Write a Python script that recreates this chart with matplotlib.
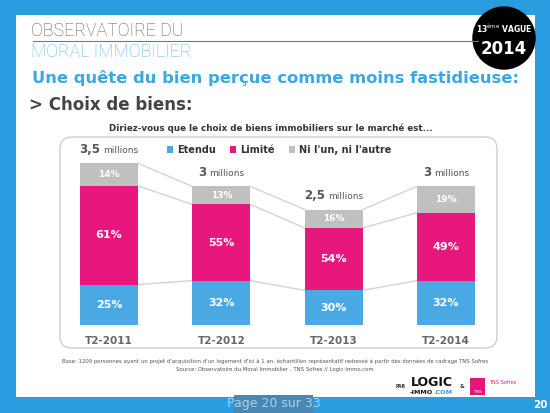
import matplotlib
matplotlib.use('Agg')
import matplotlib.pyplot as plt
from matplotlib.patches import Rectangle, FancyBboxPatch, Circle
from matplotlib.offsetbox import TextArea, HPacker, AnnotationBbox

# Données
periodes = ['T2-2011', 'T2-2012', 'T2-2013', 'T2-2014']
millions = [3.5, 3.0, 2.5, 3.0]
millions_txt = ['3,5', '3', '2,5', '3']
etendu = [25, 32, 30, 32]
limite = [61, 55, 54, 49]
ni_lun = [14, 13, 16, 19]

BLEU = '#4aa9e2'
ROSE = '#e8177d'
GRIS = '#c0c0c0'
FOND = '#2a9de0'

W, H = 550, 413
fig = plt.figure(figsize=(5.5, 4.13), dpi=100)
fig.patch.set_facecolor(FOND)

# Axe de fond en pixels
bg = fig.add_axes([0, 0, 1, 1])
bg.set_xlim(0, W)
bg.set_ylim(H, 0)
bg.axis('off')

bg.add_patch(Rectangle((16, 15), 519, 382, facecolor='white', edgecolor='none'))
bg.add_patch(FancyBboxPatch((60, 137), 437, 211, boxstyle='round,pad=0,rounding_size=12',
                            facecolor='white', edgecolor='#cfcfcf', lw=1))

# En-tête
bg.text(31, 31, 'OBSERVATOIRE DU', fontsize=12.8, color='#5e5e5e', family='Roboto',
        fontweight='light', va='center', ha='left')
bg.text(31, 52, 'MORAL IMMOBILIER', fontsize=12.8, color='#5db8e6', family='Roboto',
        fontweight='light', va='center', ha='left')
bg.plot([33, 478], [40.5, 40.5], color='#777777', lw=0.8)
bg.add_patch(Circle((504, 38), 31, color='black'))
bg.text(504, 28, '13$^{\\rm ème}$ VAGUE', fontsize=5.5, color='white', fontweight='bold',
        ha='center', va='center', family='DejaVu Sans Condensed')
bg.text(504, 49, '2014', fontsize=12, color='white', fontweight='bold',
        ha='center', va='center', family='DejaVu Sans Condensed')

bg.text(275, 78, 'Une quête du bien perçue comme moins fastidieuse:', fontsize=11.8,
        color='#3aa8e2', fontweight='bold', ha='center', va='center')
bg.text(29, 105, '> Choix de biens:', fontsize=12, color='#444444', fontweight='bold',
        ha='left', va='center')
bg.text(271, 128, 'Diriez-vous que le choix de biens immobiliers sur le marché est...',
        fontsize=6.3, color='#333333', fontweight='bold', ha='center', va='center')

# Pied de page
bg.text(275, 361, "Base: 1209 personnes ayant un projet d'acquisition d'un logement d'ici à 1 an, "
        "échantillon représentatif redressé à partir des données de cadrage TNS Sofres",
        fontsize=3.9, color='#555555', ha='center', va='center')
bg.text(275, 370, 'Source: Observatoire du Moral Immobilier , TNS Sofres // Logic-immo.com',
        fontsize=3.9, color='#555555', ha='center', va='center')

bg.text(401, 386, 'PAR', fontsize=3.3, color='#333333', ha='center', va='center', fontweight='bold')
bg.text(432, 383, 'LOGIC', fontsize=9, color='#111111', ha='center', va='center', fontweight='bold')
bg.text(433, 392.5, '-IMMO', fontsize=4.6, color='#111111', ha='right', va='center', fontweight='bold')
bg.text(433, 392.5, '.COM', fontsize=4.6, color='#2a9de0', ha='left', va='center', fontweight='bold')
bg.text(462, 386, '&', fontsize=4, color='#333333', ha='center', va='center', fontweight='bold')
bg.add_patch(Rectangle((470, 378), 15, 17, facecolor='#e5157a', edgecolor='none'))
bg.text(477.5, 392, 'TNS', fontsize=2.8, color='white', ha='center', va='center')
bg.text(489, 383, 'TNS Sofres', fontsize=3.6, color='#e5157a', ha='left', va='center')

bg.add_patch(Rectangle((234, 395), 79, 18, facecolor='#4a87b3', edgecolor='none'))
bg.text(273.5, 404, 'Page 20 sur 33', fontsize=9, color='#a8d2f0', ha='center', va='center')
bg.text(540, 405, '20', fontsize=7.5, color='white', fontweight='bold', ha='center', va='center')

# Graphique
ax = fig.add_axes([60 / W, (H - 325) / H, 437 / W, 184.8 / H])
ax.set_facecolor('none')
ax.set_xlim(-0.436, 3.454)
ax.set_ylim(0, 4)
for s in ax.spines.values():
    s.set_visible(False)
ax.set_yticks([])

x = list(range(len(periodes)))
larg = 0.516
h_et = [m * p / 100 for m, p in zip(millions, etendu)]
h_li = [m * p / 100 for m, p in zip(millions, limite)]
h_ni = [m * p / 100 for m, p in zip(millions, ni_lun)]
b_li = h_et
b_ni = [a + b for a, b in zip(h_et, h_li)]

ax.bar(x, h_et, width=larg, color=BLEU, label='Etendu', zorder=2)
ax.bar(x, h_li, width=larg, bottom=b_li, color=ROSE, label='Limité', zorder=2)
ax.bar(x, h_ni, width=larg, bottom=b_ni, color=GRIS, label="Ni l'un, ni l'autre", zorder=2)

# Lignes de liaison entre barres
niveaux = [h_et, b_ni, millions]
for i in range(len(x) - 1):
    for lv in niveaux:
        ax.plot([x[i] + larg / 2, x[i + 1] - larg / 2], [lv[i], lv[i + 1]],
                color='#d4d4d4', lw=1, zorder=1)

# Valeurs
for i in x:
    ax.text(i, h_et[i] / 2, f'{etendu[i]}%', color='white', fontweight='bold',
            fontsize=8, ha='center', va='center', zorder=3)
    ax.text(i, b_li[i] + h_li[i] / 2, f'{limite[i]}%', color='white', fontweight='bold',
            fontsize=8, ha='center', va='center', zorder=3)
    ax.text(i, b_ni[i] + h_ni[i] / 2, f'{ni_lun[i]}%', color='white', fontweight='bold',
            fontsize=6.5, ha='center', va='center', zorder=3)
    pk = HPacker(children=[TextArea(millions_txt[i], textprops=dict(fontsize=8.5, fontweight='bold', color='#555555')),
                           TextArea('millions', textprops=dict(fontsize=6.5, color='#555555'))],
                 align='baseline', pad=0, sep=2)
    ab = AnnotationBbox(pk, (i, millions[i]), xybox=(0, 10), xycoords='data',
                        boxcoords='offset points', frameon=False, box_alignment=(0.5, 0.5))
    ax.add_artist(ab)

ax.set_xticks(x)
ax.set_xticklabels(periodes, fontsize=7.5, fontweight='bold', color='#666666')
ax.tick_params(axis='x', length=0, pad=8)

leg = ax.legend(loc='center', bbox_to_anchor=(279 / W, (H - 150) / H), bbox_transform=fig.transFigure,
                ncol=3, frameon=False, fontsize=7, handlelength=0.6, handleheight=0.6,
                columnspacing=1.5, handletextpad=0.4)
for t in leg.get_texts():
    t.set_fontweight('bold')
    t.set_color('#333333')

fig.savefig('out.png', dpi=100, facecolor=fig.get_facecolor())
